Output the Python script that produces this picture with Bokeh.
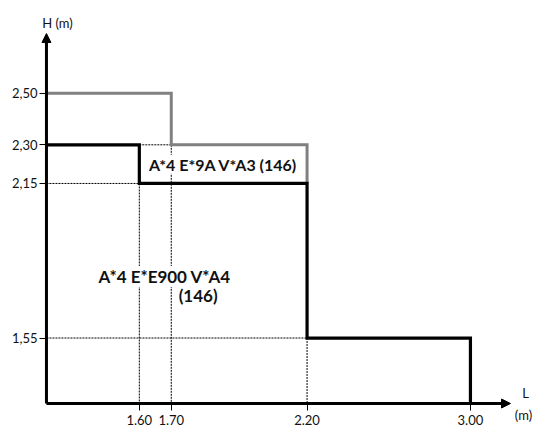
from bokeh.plotting import figure
from bokeh.models import (Range1d, FixedTicker, CustomJSTickFormatter, Label,
                          Arrow, NormalHead)
from bokeh.embed import file_html
from bokeh.resources import INLINE

# ---- data -------------------------------------------------------------
L_TICKS = [1.60, 1.70, 2.20, 3.00]
L_TICK_LABELS = ["1.60", "1.70", "2.20", "3.00"]
H_TICKS = [2.50, 2.30, 2.15, 1.55]
H_TICK_LABELS = ["2,50", "2,30", "2,15", "1,55"]

# grey envelope (A*4 E*9A V*A3): step ends (L) and heights (H)
GREY_ENDS = [1.70, 2.20]
GREY_HEIGHTS = [2.50, 2.30]
GREY_DROP_TO = 2.15
# black envelope (A*4 E*E900 V*A4)
BLACK_ENDS = [1.60, 2.20, 3.00]
BLACK_HEIGHTS = [2.30, 2.15, 1.55]

LABEL_UPPER = "A*4 E*9A V*A3 (146)"
LABEL_LOWER_1 = "A*4 E*E900 V*A4"
LABEL_LOWER_2 = "(146)"

# ---- layout ------------------------------------------------------------
XR = (1.2293, 3.388)          # x range (log scale, schematic), full canvas
YR = (1.1988, 2.8602)         # y range, full canvas
X0, Y0 = 1.3414, 1.2958       # axis origin
X_TIP, Y_TIP = 3.237, 2.732   # arrow tips
FONT = "Lato"
BOLD_FONT = "Lato"


def step_path(ends, heights, x_start, y_end):
    xs, ys = [x_start], [heights[0]]
    for i, (e, h) in enumerate(zip(ends, heights)):
        xs.append(e); ys.append(h)
        nxt = heights[i + 1] if i + 1 < len(heights) else y_end
        xs.append(e); ys.append(nxt)
    return xs, ys


p = figure(width=534, height=428, output_backend="svg", toolbar_location=None,
           x_axis_type="log", x_range=Range1d(*XR), y_range=Range1d(*YR),
           min_border=0, title=None)
p.xgrid.visible = False
p.ygrid.visible = False
p.outline_line_color = None
p.background_fill_color = "white"
p.border_fill_color = "white"

for ax, ticks, labs in ((p.xaxis, L_TICKS, L_TICK_LABELS),
                        (p.yaxis, H_TICKS, H_TICK_LABELS)):
    ax.ticker = FixedTicker(ticks=ticks, minor_ticks=[])
    ax.formatter = CustomJSTickFormatter(args=dict(vals=ticks, labs=labs), code="""
        let best = -1, bd = 1e9;
        for (let i = 0; i < vals.length; i++) {
            const d = Math.abs(vals[i] - tick);
            if (d < bd) { bd = d; best = i; }
        }
        return bd < 1e-6 ? labs[best] : "";
    """)
    ax.axis_line_color = None
    ax.major_tick_line_color = "black"
    ax.major_tick_line_width = 1
    ax.major_tick_in = 0
    ax.minor_tick_line_color = None
    ax.major_label_text_font = FONT
    ax.major_label_text_font_size = "13px"
    ax.major_label_text_color = "#111111"
p.xaxis.fixed_location = Y0
p.yaxis.fixed_location = X0
p.xaxis.major_tick_out = 7
p.xaxis.major_label_standoff = 4
p.yaxis.major_tick_out = 7
p.yaxis.major_label_standoff = 2

# dotted guide lines
dot = dict(line_color="#000000", line_width=1, line_dash="2 1", level="image")
p.line([BLACK_ENDS[0], GREY_ENDS[0]], [BLACK_HEIGHTS[0]] * 2, **dot)
p.line([X0, BLACK_ENDS[0]], [BLACK_HEIGHTS[1]] * 2, **dot)
p.line([X0, BLACK_ENDS[1]], [BLACK_HEIGHTS[2]] * 2, **dot)
p.line([BLACK_ENDS[0]] * 2, [BLACK_HEIGHTS[1], Y0], **dot)
p.line([GREY_ENDS[0]] * 2, [GREY_HEIGHTS[1], Y0], **dot)
p.line([BLACK_ENDS[1]] * 2, [BLACK_HEIGHTS[2], Y0], **dot)

# envelopes
gx, gy = step_path(GREY_ENDS, GREY_HEIGHTS, X0, GREY_DROP_TO)
p.line(gx, gy, line_color="#808080", line_width=3, line_join="miter")
bx, by = step_path(BLACK_ENDS, BLACK_HEIGHTS, X0, Y0)
p.line(bx, by, line_color="black", line_width=3.2, line_join="miter")

# axes with arrows
head = dict(size=9, fill_color="black", line_color="black", line_width=1)
p.add_layout(Arrow(end=NormalHead(**head), x_start=X0, y_start=Y0,
                   x_end=X0, y_end=Y_TIP, line_width=3, line_color="black"))
p.add_layout(Arrow(end=NormalHead(**head), x_start=X0, y_start=Y0,
                   x_end=X_TIP, y_end=Y0, line_width=3, line_color="black"))

# axis names
axis_txt = dict(text_font=FONT, text_font_size="13px", text_color="#111111",
                text_align="center", text_baseline="middle")
p.add_layout(Label(x=X0, y=Y_TIP, x_offset=11, y_offset=11, text="H (m)", **axis_txt))
p.add_layout(Label(x=X_TIP, y=Y0, x_offset=15, y_offset=11, text="L", **axis_txt))
p.add_layout(Label(x=X_TIP, y=Y0, x_offset=13, y_offset=-11, text="(m)", **axis_txt))

# region labels
lab = dict(text_font=BOLD_FONT, text_font_style="bold",
           text_color="#111111", text_align="center", text_baseline="middle",
           background_fill_color="white", level="underlay")
p.add_layout(Label(x=(BLACK_ENDS[0] * BLACK_ENDS[1]) ** 0.5,
                   y=(BLACK_HEIGHTS[0] + BLACK_HEIGHTS[1]) / 2,
                   text=LABEL_UPPER, text_font_size="16px", **lab))
p.add_layout(Label(x=1.679, y=1.789, text=LABEL_LOWER_1, text_font_size="17px", **lab))
p.add_layout(Label(x=1.789, y=1.717, text=LABEL_LOWER_2, text_font_size="17px", **lab))

open("out.html", "w").write(file_html(p, INLINE))
